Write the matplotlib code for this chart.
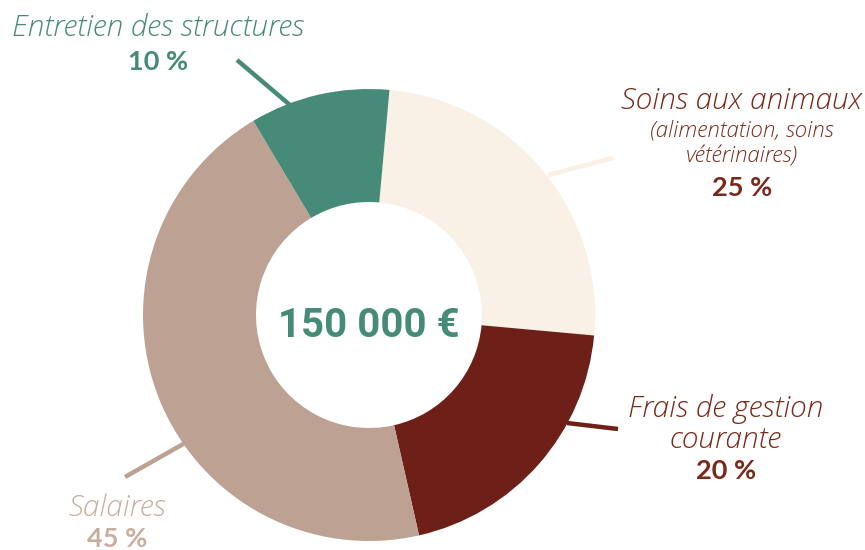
import matplotlib.pyplot as plt

labels = ['Soins aux animaux', 'Frais de gestion courante', 'Salaires', 'Entretien des structures']
shares = [25, 20, 45, 10]
colors = ['#F9F0E6', '#6E1F18', '#BDA294', '#468A78']
total = '150 000 €'

W, H = 865, 550
fig = plt.figure(figsize=(W / 100, H / 100), dpi=100)
ax = fig.add_axes([0, 0, 1, 1])

cx, cy, R = 369, H - 315, 226
ax.pie(shares, colors=colors, startangle=84.8, counterclock=False,
       center=(cx, cy), radius=R,
       wedgeprops=dict(width=R - 113, linewidth=0))
ax.set_xlim(0, W)
ax.set_ylim(0, H)
ax.set_aspect('equal')
ax.axis('off')

ax.text(cx, H - 326, total, ha='center', va='center', fontsize=29,
        fontweight='bold', family='Roboto', color='#468A78')

def y(p):
    return H - p

# leader lines (pixel coords from top)
leaders = [
    ((237, 60), (290, 105), '#468A78'),
    ((548, 175), (613, 158), '#F9F0E6'),
    ((567, 423), (618, 429), '#6E1F18'),
    ((125, 477), (185, 443), '#BDA294'),
]
for (x0, y0), (x1, y1), c in leaders:
    ax.plot([x0, x1], [y(y0), y(y1)], color=c, lw=3.2, solid_capstyle='butt')

it = dict(ha='center', va='center', family='Open Sans', style='italic', fontweight='light')
bd = dict(ha='center', va='center', family='Lato', fontweight='bold')

big, small, pct = 21.5, 16, 19.5

g = '#468A78'
ax.text(158, y(28), 'Entretien des structures', fontsize=big, color=g, **it)
ax.text(158, y(62), '10 %', fontsize=pct, color=g, **bd)

r = '#7A2A1A'
ax.text(742, y(101), 'Soins aux animaux', fontsize=big, color=r, **it)
ax.text(742, y(130), '(alimentation, soins', fontsize=small, color=r, **it)
ax.text(742, y(156), 'vétérinaires)', fontsize=small, color=r, **it)
ax.text(742, y(188), '25 %', fontsize=pct, color=r, **bd)

ax.text(726, y(409), 'Frais de gestion', fontsize=big, color=r, **it)
ax.text(726, y(440), 'courante', fontsize=big, color=r, **it)
ax.text(726, y(471), '20 %', fontsize=pct, color=r, **bd)

t = '#C9AE9F'
ax.text(117, y(508), 'Salaires', fontsize=big, color=t, **it)
ax.text(117, y(539), '45 %', fontsize=pct, color=t, **bd)

fig.savefig('out.png', dpi=100)
